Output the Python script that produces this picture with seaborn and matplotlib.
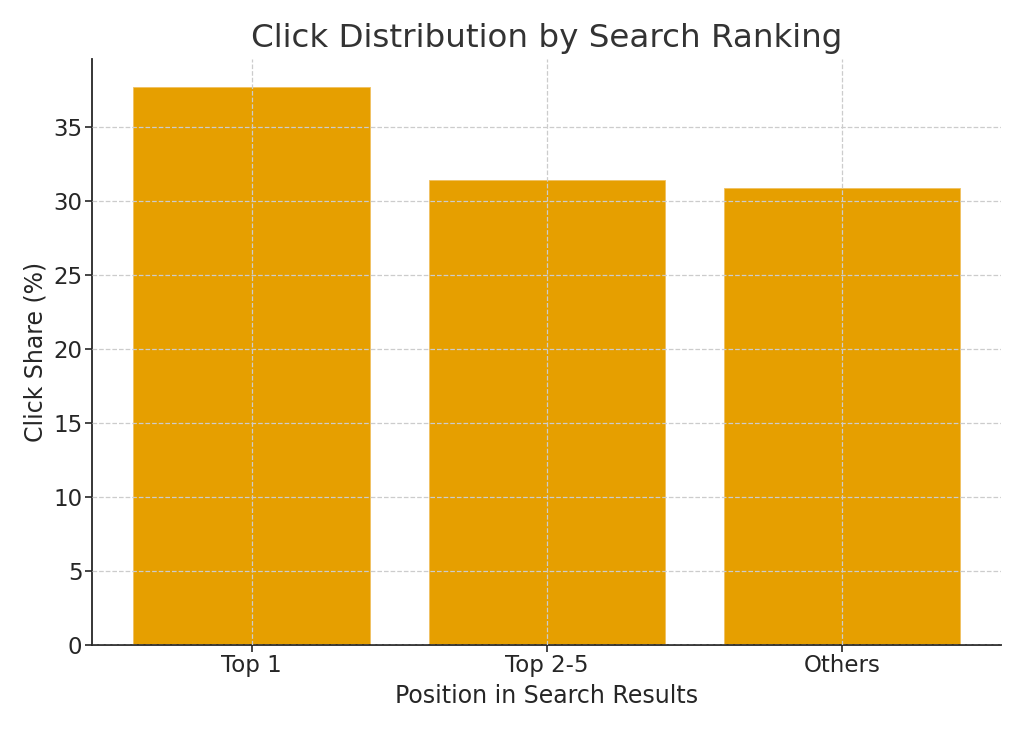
import matplotlib
matplotlib.use("Agg")
import matplotlib.pyplot as plt
import seaborn as sns
import pandas as pd

positions = ["Top 1", "Top 2-5", "Others"]
click_share = [37.7, 31.4, 30.9]

df = pd.DataFrame({"Position": positions, "Share": click_share})

sns.set_style("ticks")
plt.rcParams["font.family"] = ["DejaVu Sans"]

fig, ax = plt.subplots(figsize=(10.24, 7.31), dpi=100)
sns.barplot(data=df, x="Position", y="Share", color="#E69F00", saturation=1,
            width=0.8, edgecolor="#f0c060", linewidth=0.6, ax=ax)

ax.set_title("Click Distribution by Search Ranking", fontsize=23.4, color="#333333", pad=9)
ax.set_xlabel("Position in Search Results", fontsize=17, color="#262626", labelpad=5)
ax.set_ylabel("Click Share (%)", fontsize=17, color="#262626")
ax.tick_params(labelsize=16.5, colors="#262626", width=1.2, length=5, pad=2)
ax.set_axisbelow(False)
ax.grid(True, linestyle="--", color="#cccccc", linewidth=0.9)
ax.set_xlim(-0.54, 2.54)
sns.despine(ax=ax)
for s in ("left", "bottom"):
    ax.spines[s].set_linewidth(1.3)
    ax.spines[s].set_color("#262626")

fig.subplots_adjust(left=0.09, right=0.978, top=0.919, bottom=0.118)
fig.savefig("out.png", dpi=100)
